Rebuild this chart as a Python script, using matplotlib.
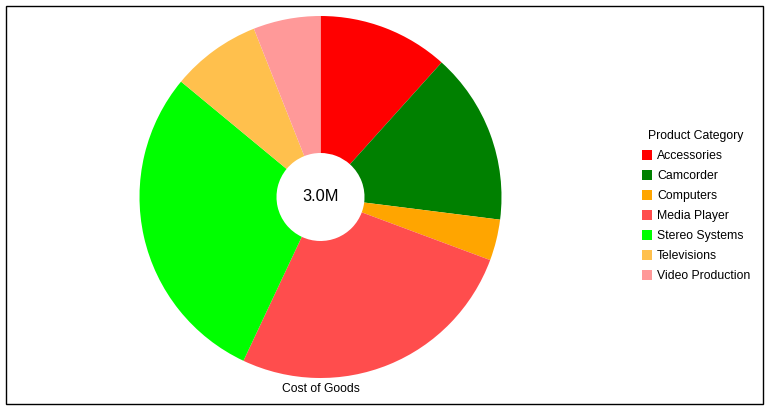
import matplotlib
matplotlib.use("Agg")
import matplotlib.pyplot as plt
from matplotlib.patches import Rectangle

plt.rcParams['font.family'] = ['Liberation Sans', 'DejaVu Sans']

# data (millions)
categories = ["Accessories", "Camcorder", "Computers", "Media Player",
              "Stereo Systems", "Televisions", "Video Production"]
cost_of_goods = [0.35, 0.46, 0.11, 0.79, 0.87, 0.24, 0.18]
total_label = "3.0M"

COLORS = ["#ff0000", "#008000", "#ffa500", "#ff4d4d",
          "#00ff00", "#ffc04d", "#ff9999"]

W, H = 770, 412
fig = plt.figure(figsize=(W / 100, H / 100), dpi=100)

# outer frame
fig.patches.append(Rectangle((5.5 / W, (H - 403.5) / H), 757.5 / W, 398 / H,
                             transform=fig.transFigure, fill=False,
                             edgecolor="black", linewidth=1.0))

# pie axes: center (320.5, 197) px, radius 181 px
r = 181
cx, cy = 320.5, 197
ax = fig.add_axes([(cx - r) / W, (H - cy - r) / H, 2 * r / W, 2 * r / H])
wedges, _ = ax.pie(cost_of_goods, colors=COLORS, startangle=90, counterclock=False,
                   radius=1.0, wedgeprops=dict(width=1 - 44 / r, linewidth=0))
ax.set_xlim(-1, 1)
ax.set_ylim(-1, 1)
ax.set_aspect("equal")
ax.axis("off")
ax.text(0, 0, total_label, ha="center", va="center", fontsize=11.8)

fig.text(cx / W, (H - 389) / H, "Cost of Goods", ha="center", va="center", fontsize=8.7)

leg = fig.legend(wedges, categories, title="Product Category",
                 loc="upper left", bbox_to_anchor=(632 / W, (H - 120.5) / H),
                 frameon=False, fontsize=8.8, title_fontsize=8.8,
                 handlelength=0.82, handleheight=0.82, handletextpad=0.43,
                 labelspacing=0.655, borderpad=0.3)

fig.savefig("out.png", dpi=100)
